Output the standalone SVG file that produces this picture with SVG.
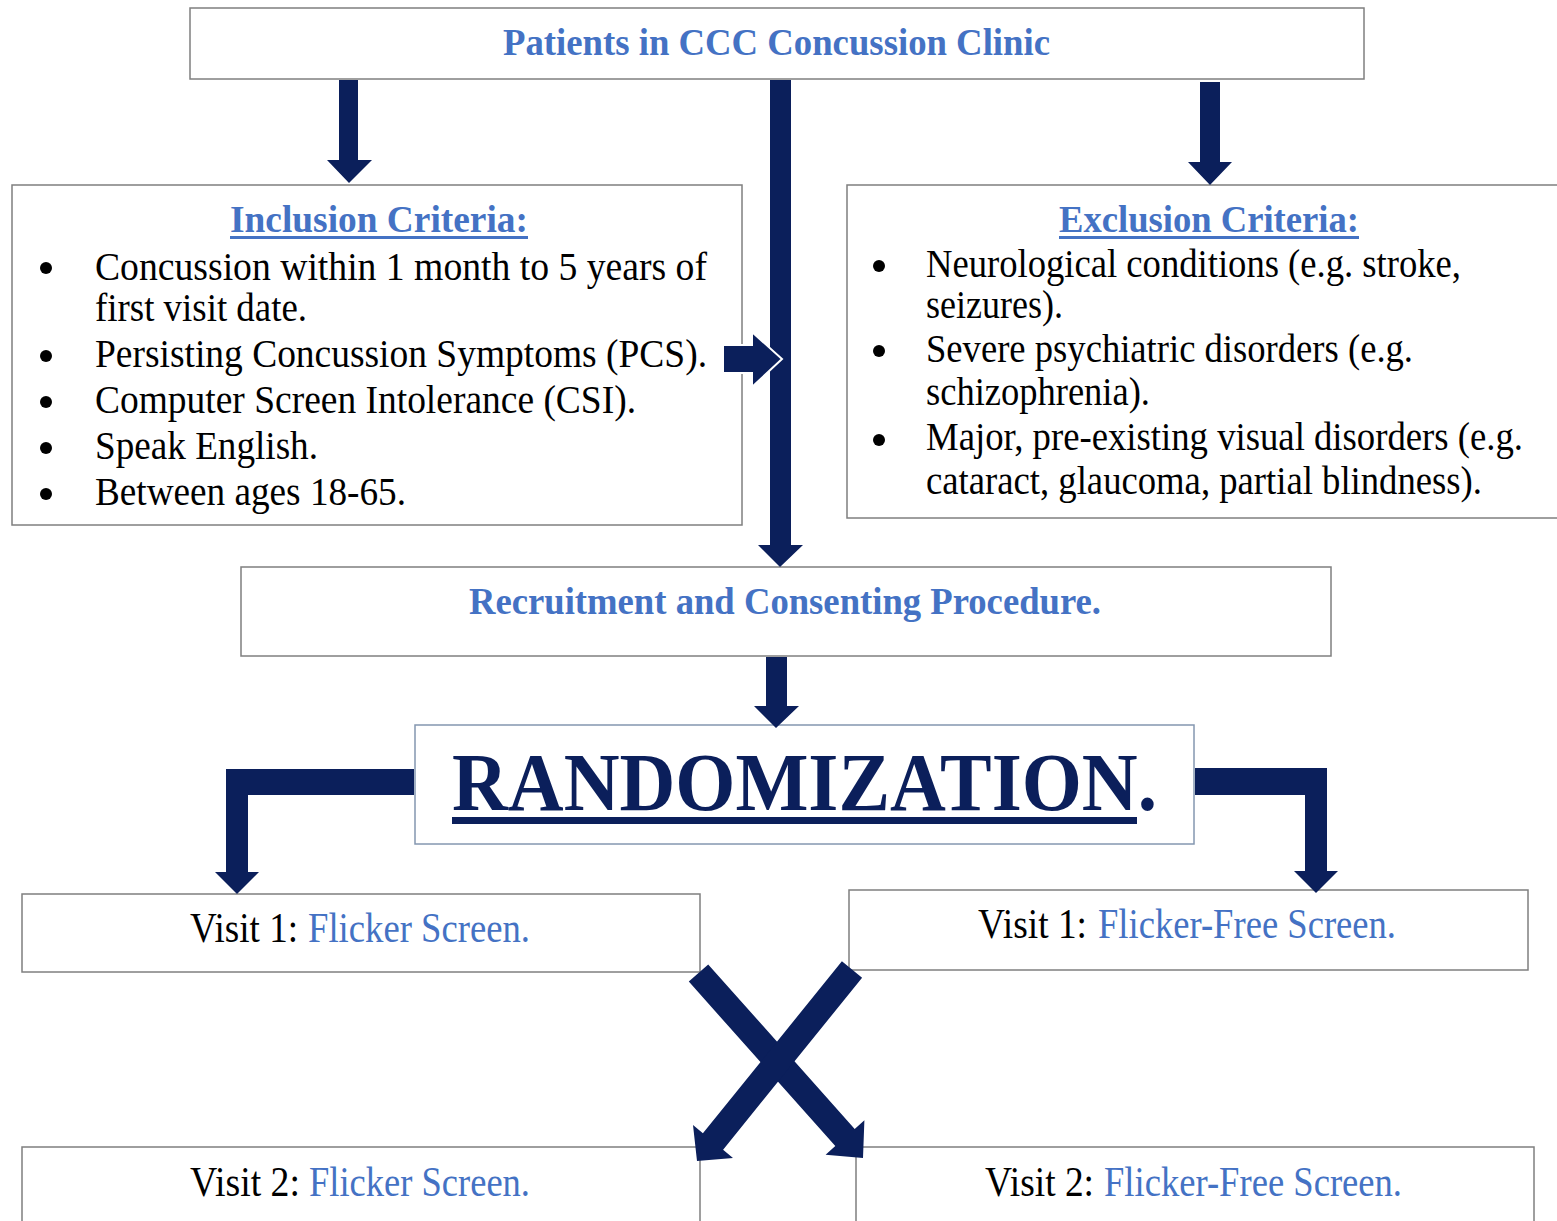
<svg xmlns="http://www.w3.org/2000/svg" width="1557" height="1221" viewBox="0 0 1557 1221">
<style>
.box{fill:#ffffff;stroke:#7f7f7f;stroke-width:1.5}
.rbox{fill:#ffffff;stroke:#8497b0;stroke-width:1.5}
.arr{fill:#0b1f5b}
.t{font-family:"Liberation Serif","Times New Roman",serif;fill:#000000}
.body{font-size:40px}
.head{font-size:38px;font-weight:bold;fill:#4472c4}
.blue{fill:#4472c4}
.visit{font-size:42px}
.rand{font-size:83px;font-weight:bold;fill:#0b1f5b}
</style>
<rect width="1557" height="1221" fill="#ffffff"/>

<g id="patients">
<rect class="box" x="190" y="8" width="1174" height="71"/>
<text class="t head" x="503" y="55" textLength="547" lengthAdjust="spacingAndGlyphs">Patients in CCC Concussion Clinic</text>
</g>

<g id="inclusion">
<rect class="box" x="12" y="185" width="730" height="340"/>
<text class="t head" x="230" y="232" textLength="298" lengthAdjust="spacingAndGlyphs">Inclusion Criteria:</text>
<rect x="230" y="236" width="298" height="3" fill="#4472c4"/>
<g fill="#000000">
<circle cx="46" cy="268" r="6"/><circle cx="46" cy="356" r="6"/><circle cx="46" cy="402" r="6"/><circle cx="46" cy="448" r="6"/><circle cx="46" cy="494" r="6"/>
</g>
<text class="t body" x="95" y="280" textLength="612" lengthAdjust="spacingAndGlyphs">Concussion within 1 month to 5 years of</text>
<text class="t body" x="95" y="321" textLength="212" lengthAdjust="spacingAndGlyphs">first visit date.</text>
<text class="t body" x="95" y="367" textLength="612" lengthAdjust="spacingAndGlyphs">Persisting Concussion Symptoms (PCS).</text>
<text class="t body" x="95" y="413" textLength="541" lengthAdjust="spacingAndGlyphs">Computer Screen Intolerance (CSI).</text>
<text class="t body" x="95" y="459" textLength="223" lengthAdjust="spacingAndGlyphs">Speak English.</text>
<text class="t body" x="95" y="505" textLength="311" lengthAdjust="spacingAndGlyphs">Between ages 18-65.</text>
</g>

<g id="exclusion">
<rect class="box" x="847" y="185" width="720" height="333"/>
<text class="t head" x="1059" y="232" textLength="300" lengthAdjust="spacingAndGlyphs">Exclusion Criteria:</text>
<rect x="1059" y="236" width="300" height="3" fill="#4472c4"/>
<g fill="#000000">
<circle cx="879" cy="266" r="6"/><circle cx="879" cy="351" r="6"/><circle cx="879" cy="440" r="6"/>
</g>
<text class="t body" x="926" y="277" textLength="535" lengthAdjust="spacingAndGlyphs">Neurological conditions (e.g. stroke,</text>
<text class="t body" x="926" y="318" textLength="137" lengthAdjust="spacingAndGlyphs">seizures).</text>
<text class="t body" x="926" y="362" textLength="487" lengthAdjust="spacingAndGlyphs">Severe psychiatric disorders (e.g.</text>
<text class="t body" x="926" y="405" textLength="224" lengthAdjust="spacingAndGlyphs">schizophrenia).</text>
<text class="t body" x="926" y="450" textLength="597" lengthAdjust="spacingAndGlyphs">Major, pre-existing visual disorders (e.g.</text>
<text class="t body" x="926" y="494" textLength="556" lengthAdjust="spacingAndGlyphs">cataract, glaucoma, partial blindness).</text>
</g>

<g id="recruitment">
<rect class="box" x="241" y="567" width="1090" height="89"/>
<text class="t head" x="469" y="614" textLength="632" lengthAdjust="spacingAndGlyphs">Recruitment and Consenting Procedure.</text>
</g>

<g id="randomization">
<rect class="rbox" x="415" y="725" width="779" height="119"/>
<text class="t rand" x="452" y="810" textLength="705" lengthAdjust="spacingAndGlyphs">RANDOMIZATION.</text>
<rect x="452" y="817" width="685" height="7" fill="#0b1f5b"/>
</g>

<g id="visit1-flicker">
<rect class="box" x="22" y="894" width="678" height="78"/>
<text class="t visit" y="942"><tspan x="190" textLength="108" lengthAdjust="spacingAndGlyphs">Visit 1:</tspan><tspan class="blue" x="308" textLength="222" lengthAdjust="spacingAndGlyphs">Flicker Screen.</tspan></text>
</g>

<g id="visit1-flickerfree">
<rect class="box" x="849" y="890" width="679" height="80"/>
<text class="t visit" y="938"><tspan x="978" textLength="109" lengthAdjust="spacingAndGlyphs">Visit 1:</tspan><tspan class="blue" x="1098" textLength="298" lengthAdjust="spacingAndGlyphs">Flicker-Free Screen.</tspan></text>
</g>

<g id="visit2-flicker">
<rect class="box" x="22" y="1147" width="678" height="90"/>
<text class="t visit" y="1196"><tspan x="190" textLength="110" lengthAdjust="spacingAndGlyphs">Visit 2:</tspan><tspan class="blue" x="309" textLength="221" lengthAdjust="spacingAndGlyphs">Flicker Screen.</tspan></text>
</g>

<g id="visit2-flickerfree">
<rect class="box" x="856" y="1147" width="678" height="90"/>
<text class="t visit" y="1196"><tspan x="985" textLength="109" lengthAdjust="spacingAndGlyphs">Visit 2:</tspan><tspan class="blue" x="1104" textLength="298" lengthAdjust="spacingAndGlyphs">Flicker-Free Screen.</tspan></text>
</g>

<g id="connectors">
<polygon class="arr" points="339,80 358,80 358,160 372,160 349,183 327,160 339,160"/>
<polygon class="arr" points="770,80 791,80 791,545 803,545 780,567 758,545 770,545"/>
<polygon class="arr" points="1200,82 1220,82 1220,162 1232,162 1210,185 1188,162 1200,162"/>
<polygon class="arr" points="723,345 752,345 752,332 782,359 752,387 752,373 723,373" stroke="#ffffff" stroke-width="2"/>
<polygon class="arr" points="766,657 787,657 787,706 799,706 776,728 754,706 766,706"/>
<polygon class="arr" points="414,769 226,769 226,872 215,872 237,894 259,872 248,872 248,795 414,795"/>
<polygon class="arr" points="1195,768 1327,768 1327,871 1338,871 1316,893 1294,871 1305,871 1305,795 1195,795"/>
<polygon class="arr" points="688.8,981.6 835.3,1146.1 825.6,1154.8 863,1158 864.4,1120.2 854.7,1128.9 708.2,964.4"/>
<polygon class="arr" points="841.9,961.3 702.9,1133.3 693,1125 697,1161 733,1158 723.1,1149.7 862.1,977.7"/>
</g>
</svg>
